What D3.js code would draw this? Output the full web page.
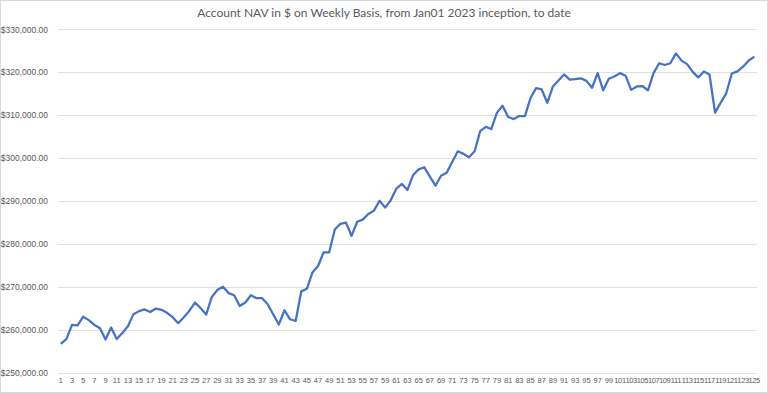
<!DOCTYPE html>
<html>
<head>
<meta charset="utf-8">
<script src="https://cdn.jsdelivr.net/npm/d3@7"></script>
<style>
	body { margin: 0; background: #fff; }
	svg { display: block; font-family: Lato, "Open Sans", sans-serif; }
</style>
</head>
<body>
<div class="chart"></div>
<script>
	// weekly NAV, in thousands of $, weeks 1..125
	var navK = [
		256.8, 257.9, 261.2, 261.1, 263.1, 262.3, 261.2, 260.4, 257.8, 260.6,
		257.9, 259.3, 260.9, 263.7, 264.4, 264.8, 264.2, 265.0, 264.7, 264.0,
		263.0, 261.6, 263.0, 264.5, 266.4, 265.1, 263.6, 267.7, 269.3, 270.1,
		268.6, 268.1, 265.6, 266.4, 268.1, 267.4, 267.4, 266.0, 263.6, 261.3,
		264.6, 262.5, 262.1, 269.0, 269.6, 273.4, 274.9, 278.1, 278.1, 283.4,
		284.7, 285.0, 281.9, 285.2, 285.7, 287.0, 287.8, 290.1, 288.5, 290.2,
		292.9, 294.0, 292.6, 296.1, 297.4, 297.9, 295.7, 293.6, 295.9, 296.6,
		299.1, 301.6, 301.0, 300.2, 301.6, 306.3, 307.3, 306.8, 310.6, 312.2,
		309.6, 309.1, 309.8, 309.8, 314.0, 316.3, 316.0, 312.9, 316.7, 318.1,
		319.5, 318.3, 318.4, 318.6, 318.0, 316.4, 319.8, 315.8, 318.5, 319.0,
		319.8, 319.2, 315.9, 316.7, 316.8, 315.8, 319.8, 322.1, 321.7, 322.1,
		324.4, 322.7, 321.9, 320.1, 318.8, 320.2, 319.5, 310.6, 312.9, 315.1,
		319.7, 320.2, 321.3, 322.7, 323.6
	];
	var weeks = navK.map(function (d, i) { return i + 1; });
	var yTicks = [250000, 260000, 270000, 280000, 290000, 300000, 310000, 320000, 330000];

	var W = 768, H = 393;
	var margin = {top: 29, right: 11, bottom: 20, left: 58};

	var svg = d3.select(".chart").append("svg")
		.attr("width", W)
		.attr("height", H);

	// chart area border
	svg.append("rect")
		.attr("x", 0.5).attr("y", 0.5)
		.attr("width", W - 1).attr("height", H - 1)
		.attr("fill", "#fff")
		.attr("stroke", "#d9d9d9");

	svg.append("text")
		.attr("x", W / 2)
		.attr("y", 17)
		.attr("text-anchor", "middle")
		.attr("fill", "#595959")
		.style("font-size", "12px")
		.text("Account NAV in $ on Weekly Basis, from Jan01 2023 inception, to date");

	var x = d3.scaleBand()
		.domain(weeks)
		.range([margin.left, W - margin.right]);

	var y = d3.scaleLinear()
		.domain([250000, 330000])
		.range([373, margin.top + 0.3]);

	var fmt = d3.format("$,.2f");

	// gridlines
	svg.append("g")
		.selectAll("line")
		.data(yTicks)
		.enter().append("line")
		.attr("x1", margin.left)
		.attr("x2", W - margin.right)
		.attr("y1", function (d) { return Math.round(y(d)) + 0.5; })
		.attr("y2", function (d) { return Math.round(y(d)) + 0.5; })
		.attr("stroke", "#e0e0e0")
		.attr("stroke-width", 1);

	var yAxis = d3.axisLeft(y)
		.tickValues(yTicks)
		.tickFormat(fmt)
		.tickSize(0)
		.tickPadding(10);

	svg.append("g")
		.attr("class", "y axis")
		.attr("transform", "translate(" + margin.left + ",0)")
		.call(yAxis)
		.call(function (g) { g.select(".domain").remove(); })
		.selectAll("text")
		.attr("fill", "#595959")
		.style("font-size", "8.5px");

	var xAxis = d3.axisBottom(x)
		.tickValues(weeks.filter(function (d) { return d % 2 === 1; }))
		.tickSize(0)
		.tickPadding(5);

	svg.append("g")
		.attr("class", "x axis")
		.attr("transform", "translate(0,373)")
		.call(xAxis)
		.call(function (g) { g.select(".domain").remove(); })
		.selectAll("text")
		.attr("fill", "#595959")
		.style("font-size", "7.5px")
		.style("letter-spacing", function (d) { return d > 99 ? "-0.4px" : null; });

	var line = d3.line()
		.x(function (d, i) { return x(weeks[i]) + x.bandwidth() / 2; })
		.y(function (d) { return y(d * 1000); });

	svg.append("path")
		.datum(navK)
		.attr("fill", "none")
		.attr("stroke", "#4472c4")
		.attr("stroke-width", 2.25)
		.attr("stroke-linejoin", "round")
		.attr("d", line);
</script>
</body>
</html>
